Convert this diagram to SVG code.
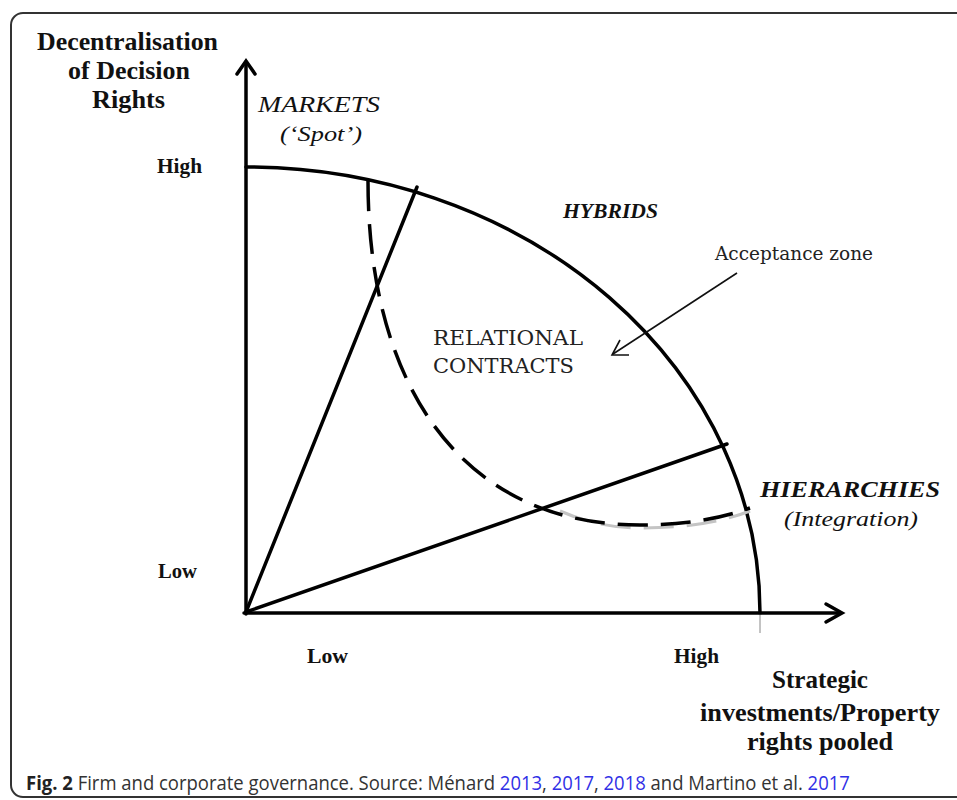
<svg xmlns="http://www.w3.org/2000/svg" width="957" height="800" viewBox="0 0 957 800">
<style>
  .ax{font-family:"Liberation Serif","Times New Roman",serif;font-weight:bold;fill:#111}
  .lab{font-family:"Liberation Serif","Times New Roman",serif;fill:#111}
  .slab{font-family:"DejaVu Serif","Liberation Serif",serif;fill:#222}
  .it{font-style:italic}
  .line{stroke:#000;stroke-width:3.5;fill:none;stroke-linecap:round}
  .dash{stroke:#000;stroke-width:3.5;fill:none;stroke-dasharray:30 13}
  .cap{font-family:"Open Sans","Liberation Sans",sans-serif;font-size:20px;fill:#333}
  .link{fill:#3030e6}
</style>
<rect x="11" y="13" width="990" height="784" rx="12" ry="12" fill="#fff" stroke="#333" stroke-width="2"/>

<g id="connectors">
  <!-- axes -->
  <line class="line" x1="246" y1="614" x2="246" y2="62" stroke-width="4"/>
  <polyline class="line" points="237,74 246,61 255,74" stroke-width="4.5" stroke-linejoin="miter"/>
  <line class="line" x1="244" y1="613" x2="840" y2="613" stroke-width="4"/>
  <polyline class="line" points="826,604 842,613 826,622" stroke-width="4.5" stroke-linejoin="miter"/>
  <line x1="760" y1="613" x2="760" y2="633" stroke="#888" stroke-width="1"/>
  <!-- outer frontier -->
  <path class="line" d="M246,167 A514,446 0 0 1 760,613" stroke-width="3.5"/>
  <!-- rays -->
  <line class="line" x1="246" y1="612" x2="417" y2="187"/>
  <line class="line" x1="246" y1="612" x2="727" y2="444"/>
  <!-- acceptance zone (dashed) with light shadow at the bottom -->
  <path d="M560,511 C590,524 615,528 642,528 C692,528 727,520 750,511" stroke="#c4c4c4" stroke-width="3" fill="none" stroke-dasharray="30 13"/>
  <path class="dash" d="M368,181 C368,390 465,525 640,525 C690,525 725,517 750,508"/>
  <!-- pointer arrow -->
  <line x1="737" y1="273" x2="613" y2="354" stroke="#111" stroke-width="1.6"/>
  <polyline points="620,340 612,355 629,355" fill="none" stroke="#111" stroke-width="1.6"/>
</g>

<g id="y-axis-label">
  <text class="ax" x="37" y="50" font-size="25" textLength="181" lengthAdjust="spacingAndGlyphs">Decentralisation</text>
  <text class="ax" x="68" y="79" font-size="25" textLength="122" lengthAdjust="spacingAndGlyphs">of Decision</text>
  <text class="ax" x="92" y="108" font-size="25" textLength="73" lengthAdjust="spacingAndGlyphs">Rights</text>
</g>
<g id="y-high"><text class="ax" x="157" y="173" font-size="20" textLength="45" lengthAdjust="spacingAndGlyphs">High</text></g>
<g id="y-low"><text class="ax" x="158" y="578" font-size="20" textLength="39" lengthAdjust="spacingAndGlyphs">Low</text></g>
<g id="x-low"><text class="ax" x="307" y="663" font-size="20" textLength="41" lengthAdjust="spacingAndGlyphs">Low</text></g>
<g id="x-high"><text class="ax" x="674" y="663" font-size="20" textLength="45" lengthAdjust="spacingAndGlyphs">High</text></g>

<g id="x-axis-label">
  <text class="ax" x="772" y="688" font-size="25" textLength="96" lengthAdjust="spacingAndGlyphs">Strategic</text>
  <text class="ax" x="700" y="721" font-size="25" textLength="240" lengthAdjust="spacingAndGlyphs">investments/Property</text>
  <text class="ax" x="747" y="750" font-size="25" textLength="146" lengthAdjust="spacingAndGlyphs">rights pooled</text>
</g>

<g id="markets">
  <text class="lab it" x="258" y="112" font-size="23" textLength="122" lengthAdjust="spacingAndGlyphs">MARKETS</text>
  <text class="lab it" x="280" y="141" font-size="22" textLength="82" lengthAdjust="spacingAndGlyphs">(‘Spot’)</text>
</g>
<g id="hybrids">
  <text class="lab it" x="563" y="218" font-size="20" font-weight="bold" textLength="95" lengthAdjust="spacingAndGlyphs">HYBRIDS</text>
</g>
<g id="acceptance-zone">
  <text class="slab" x="715" y="260" font-size="18" textLength="158" lengthAdjust="spacingAndGlyphs">Acceptance zone</text>
</g>
<g id="relational-contracts">
  <text class="slab" x="433" y="345" font-size="20" textLength="150" lengthAdjust="spacingAndGlyphs">RELATIONAL</text>
  <text class="slab" x="433" y="373" font-size="20" textLength="141" lengthAdjust="spacingAndGlyphs">CONTRACTS</text>
</g>
<g id="hierarchies">
  <text class="lab it" x="760" y="497" font-size="23" font-weight="bold" textLength="180" lengthAdjust="spacingAndGlyphs">HIERARCHIES</text>
  <text class="lab it" x="784" y="526" font-size="22" textLength="134" lengthAdjust="spacingAndGlyphs">(Integration)</text>
</g>

<g id="caption">
  <text class="cap" transform="translate(26,790) scale(0.924,1)"><tspan font-weight="bold" fill="#222">Fig. 2</tspan> Firm and corporate governance. Source: Ménard <tspan class="link">2013</tspan>, <tspan class="link">2017</tspan>, <tspan class="link">2018</tspan> and Martino et al. <tspan class="link">2017</tspan></text>
</g>
</svg>
